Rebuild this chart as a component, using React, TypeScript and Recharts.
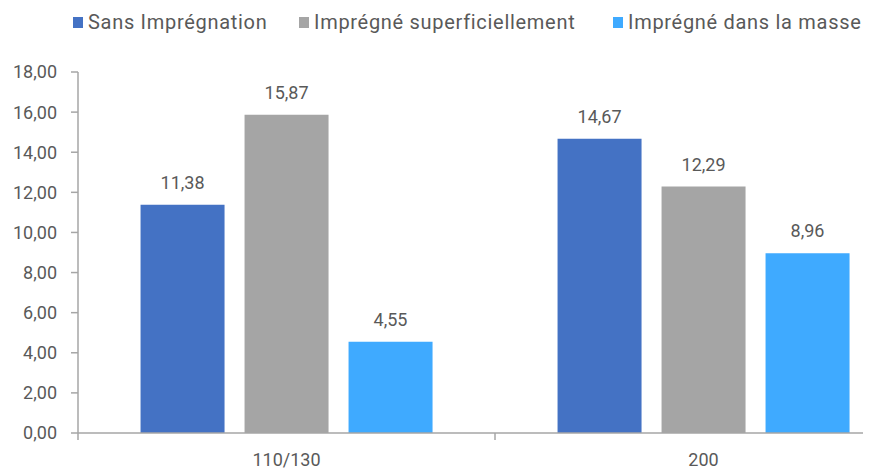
import React from "react";
import { BarChart, Bar, XAxis, YAxis, LabelList } from "recharts";

const categories = ["110/130", "200"];
const sansImpregnation = [11.38, 14.67];
const impregneSuperficiellement = [15.87, 12.29];
const impregneDansLaMasse = [4.55, 8.96];
const yTicks = [0, 2, 4, 6, 8, 10, 12, 14, 16, 18];
const seriesNames = ["Sans Imprégnation", "Imprégné superficiellement", "Imprégné dans la masse"];
const seriesColors = ["#4472C4", "#A5A5A5", "#3FAAFF"];

const data = categories.map((c, i) => ({
  cat: c,
  s0: sansImpregnation[i],
  s1: impregneSuperficiellement[i],
  s2: impregneDansLaMasse[i],
}));

const FONT = "Roboto, 'Liberation Sans', sans-serif";
const TEXT = "#595959";
const AXIS = "#A6A6A6";
const fmt = (v: number) => v.toFixed(2).replace(".", ",");

const legendLefts = [65, 291, 605];
const X_MARGIN = 20;

function CatTick(props: any) {
  const { x, y, payload, width, visibleTicksCount, index } = props;
  const band = width / (visibleTicksCount || categories.length);
  const axisY = y - X_MARGIN;
  const lines = [x - band / 2];
  if (index === (visibleTicksCount || categories.length) - 1) lines.push(x + band / 2);
  return (
    <g>
      {lines.map((lx, i) => (
        <line key={i} x1={lx} x2={lx} y1={axisY} y2={axisY + 7} stroke={AXIS} strokeWidth={1.5} />
      ))}
      <text x={x} y={y} dy="0.71em" textAnchor="middle" fill={TEXT} fontSize={18} fontFamily={FONT}>
        {payload.value}
      </text>
    </g>
  );
}

export default function App() {
  return (
    <div style={{ width: 863, height: 461, overflow: "hidden", position: "relative", fontFamily: FONT }}>
      {seriesNames.map((n, i) => (
        <div
          key={n}
          style={{
            position: "absolute",
            left: legendLefts[i],
            top: 0,
            height: 28,
            display: "flex",
            alignItems: "center",
            whiteSpace: "nowrap",
          }}
        >
          <span style={{ display: "inline-block", width: 10, height: 11, background: seriesColors[i], marginRight: 5 }} />
          <span style={{ fontSize: 20, color: TEXT, letterSpacing: 0.7 }}>{n}</span>
        </div>
      ))}
      <BarChart
        width={920}
        height={461}
        data={data}
        margin={{ top: 64, right: 16, bottom: 6, left: 0 }}
        barCategoryGap="15%"
        barGap={20}
      >
        <XAxis
          dataKey="cat"
          height={30}
          tickLine={false}
          tickSize={0}
          tickMargin={X_MARGIN}
          axisLine={{ stroke: AXIS, strokeWidth: 1.5 }}
          tick={<CatTick />}
          interval={0}
        />
        <YAxis
          width={70}
          domain={[0, 18]}
          ticks={yTicks}
          tickFormatter={fmt}
          tickSize={7}
          tickMargin={14}
          axisLine={{ stroke: AXIS, strokeWidth: 1.5 }}
          tickLine={{ stroke: AXIS, strokeWidth: 1.5 }}
          tick={{ fill: TEXT, fontSize: 18, fontFamily: FONT }}
          interval={0}
        />
        {["s0", "s1", "s2"].map((k, i) => (
          <Bar key={k} dataKey={k} fill={seriesColors[i]} isAnimationActive={false} name={seriesNames[i]}>
            <LabelList
              dataKey={k}
              position="top"
              offset={16}
              formatter={(v: any) => fmt(Number(v))}
              style={{ fill: TEXT, fontSize: 18, fontFamily: FONT }}
            />
          </Bar>
        ))}
      </BarChart>
    </div>
  );
}
